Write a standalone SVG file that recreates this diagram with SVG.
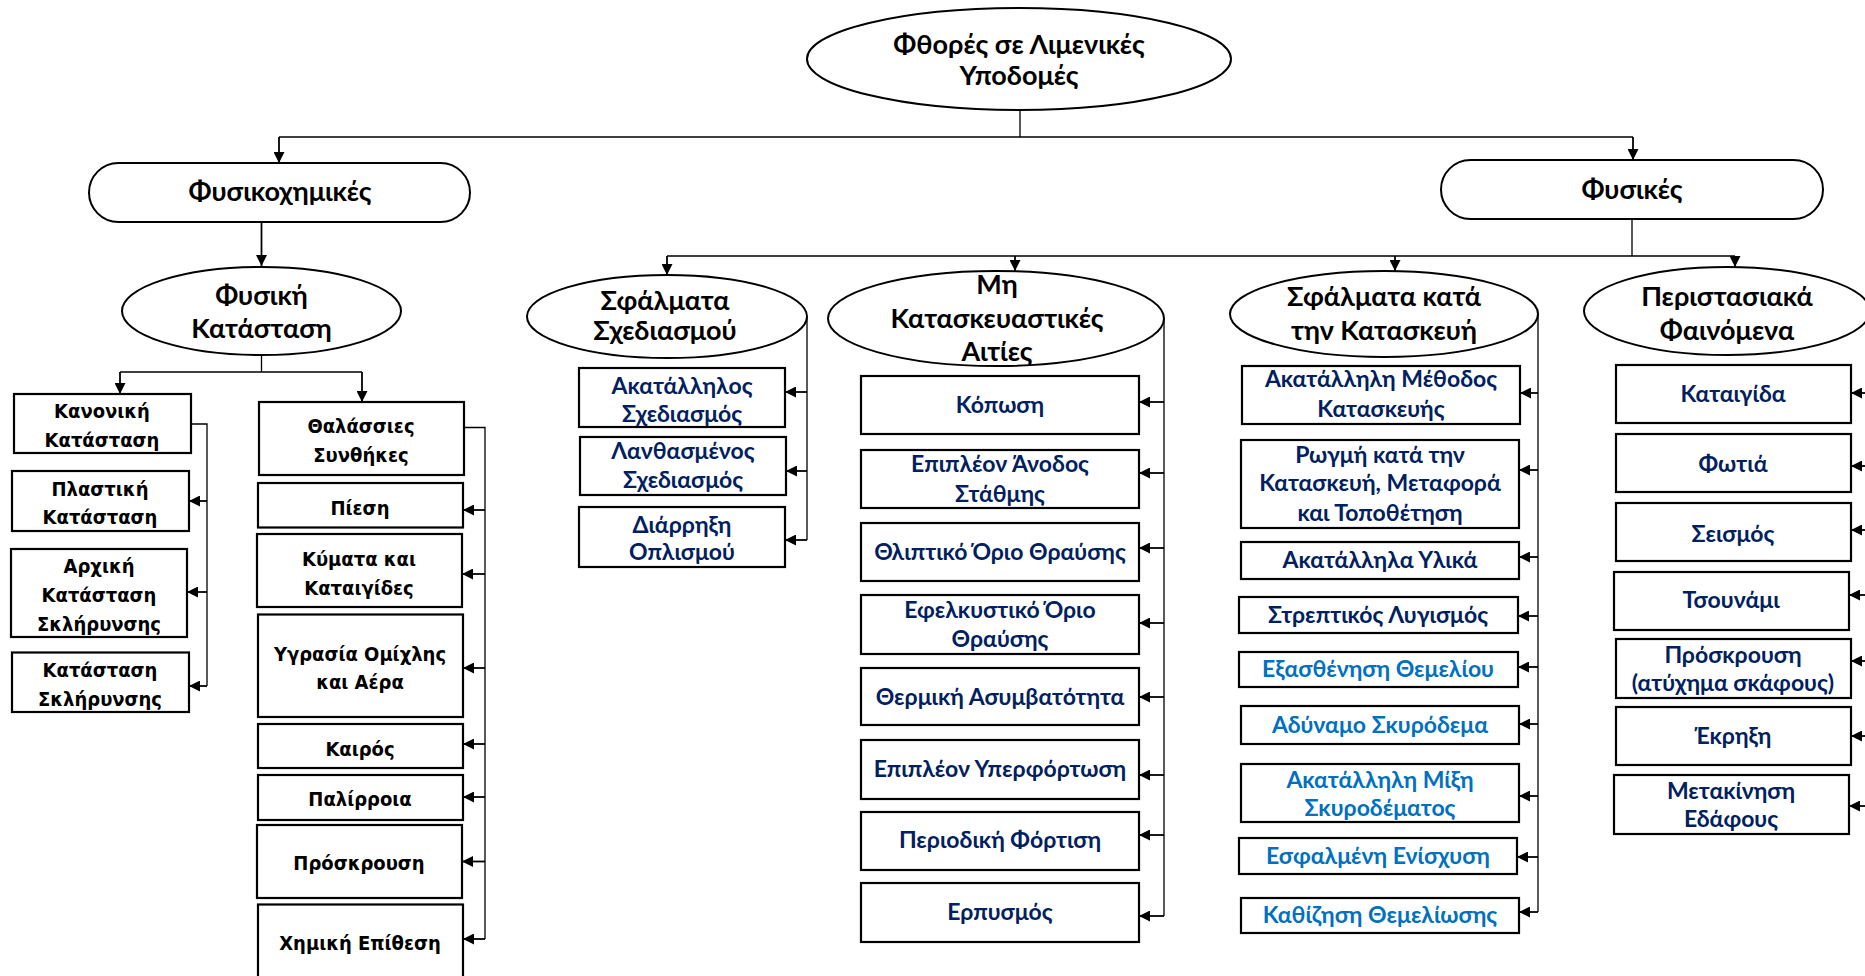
<svg xmlns="http://www.w3.org/2000/svg" width="1865" height="976" viewBox="0 0 1865 976">
<defs>
<marker id="ah" markerUnits="userSpaceOnUse" markerWidth="12" markerHeight="11" refX="11" refY="5.5" orient="auto">
<path d="M0,0 L11,5.5 L0,11 z" fill="#000"/>
</marker>
<style>
.shape{fill:#fff;stroke:#000;stroke-width:2}
.box{fill:#fff;stroke:#000;stroke-width:2.2}
.ln{fill:none;stroke:#000;stroke-width:1.3}
.ar{fill:none;stroke:#000;stroke-width:1.8;marker-end:url(#ah)}
.et{font-family:Lato,"Liberation Sans",sans-serif;font-weight:bold;font-size:27px;fill:#000;text-anchor:middle}
.lt{font-family:"DejaVu Sans Condensed","DejaVu Sans",Verdana,sans-serif;font-stretch:condensed;font-weight:bold;font-size:20px;fill:#000;text-anchor:middle}
.nt{font-family:Lato,"Liberation Sans",sans-serif;font-weight:bold;font-size:23px;fill:#002060;text-anchor:middle}
.bt{font-family:Lato,"Liberation Sans",sans-serif;font-weight:bold;font-size:23px;fill:#0070C0;text-anchor:middle}
</style>
</defs>
<rect width="1865" height="976" fill="#fff"/>

<g id="connectors">
<path class="ln" d="M1020,110 V137 M279,137 H1633"/>
<path class="ar" d="M279,137 V163"/>
<path class="ar" d="M1633,137 V160"/>
<path class="ar" d="M261.5,222 V266"/>
<path class="ln" d="M261.5,355 V372 M120,372 H362"/>
<path class="ar" d="M120,372 V394"/>
<path class="ar" d="M362,372 V402"/>
<path class="ln" d="M1632,219 V256 M667,256 H1735"/>
<path class="ar" d="M667,256 V275"/>
<path class="ar" d="M1015,256 V271"/>
<path class="ar" d="M1395,256 V271"/>
<path class="ar" d="M1735,256 V267"/>
<path class="ln" d="M191,424 H207 V686"/>
<path class="ar" d="M207,501 H189"/>
<path class="ar" d="M207,592 H187"/>
<path class="ar" d="M207,686 H189"/>
<path class="ln" d="M464,427.5 H485 V939"/>
<path class="ar" d="M485,510 H463"/>
<path class="ar" d="M485,574 H462"/>
<path class="ar" d="M485,668 H463"/>
<path class="ar" d="M485,744 H463"/>
<path class="ar" d="M485,797 H463"/>
<path class="ar" d="M485,861.5 H462"/>
<path class="ar" d="M485,939 H463"/>
<path class="ln" d="M807,317 V540"/>
<path class="ar" d="M807,392 H785"/>
<path class="ar" d="M807,471 H786"/>
<path class="ar" d="M807,540 H785"/>
<path class="ln" d="M1164,318 V916"/>
<path class="ar" d="M1164,402 H1139"/>
<path class="ar" d="M1164,473 H1139"/>
<path class="ar" d="M1164,548 H1139"/>
<path class="ar" d="M1164,623 H1139"/>
<path class="ar" d="M1164,697 H1139"/>
<path class="ar" d="M1164,775 H1139"/>
<path class="ar" d="M1164,835 H1139"/>
<path class="ar" d="M1164,916 H1139"/>
<path class="ln" d="M1538,314 V912"/>
<path class="ar" d="M1538,393 H1520"/>
<path class="ar" d="M1538,470 H1519"/>
<path class="ar" d="M1538,557 H1519"/>
<path class="ar" d="M1538,616 H1518"/>
<path class="ar" d="M1538,667 H1518"/>
<path class="ar" d="M1538,724 H1519"/>
<path class="ar" d="M1538,796 H1519"/>
<path class="ar" d="M1538,857 H1517"/>
<path class="ar" d="M1538,912 H1519"/>
<path class="ar" d="M1868,393 H1851"/>
<path class="ar" d="M1868,466 H1851"/>
<path class="ar" d="M1868,530 H1851"/>
<path class="ar" d="M1868,595 H1849"/>
<path class="ar" d="M1868,661 H1851"/>
<path class="ar" d="M1868,736 H1851"/>
<path class="ar" d="M1868,806 H1849"/>
</g>

<g id="root"><ellipse class="shape" cx="1019" cy="59" rx="212" ry="51"/><text class="et" x="1019" y="54">Φθορές σε Λιμενικές</text><text class="et" x="1019" y="85">Υποδομές</text></g>
<g id="fysikoximikes"><rect class="shape" x="89" y="163" width="381" height="59" rx="29.5"/><text class="et" x="280" y="201">Φυσικοχημικές</text></g>
<g id="fysikes"><rect class="shape" x="1441" y="160" width="382" height="59" rx="29.5"/><text class="et" x="1632" y="199">Φυσικές</text></g>

<g id="fysiki-katastasi"><ellipse class="shape" cx="261.5" cy="311" rx="139.5" ry="44"/><text class="et" x="261.5" y="305">Φυσική</text><text class="et" x="261.5" y="338">Κατάσταση</text></g>
<g id="kanoniki"><rect class="box" x="14" y="394" width="177" height="59"/><text class="lt" x="102" y="418">Κανονική</text><text class="lt" x="102" y="447">Κατάσταση</text></g>
<g id="plastiki"><rect class="box" x="12" y="471" width="177" height="60"/><text class="lt" x="100" y="496">Πλαστική</text><text class="lt" x="100" y="524">Κατάσταση</text></g>
<g id="arxiki"><rect class="box" x="11" y="549" width="176" height="88"/><text class="lt" x="99" y="573">Αρχική</text><text class="lt" x="99" y="602">Κατάσταση</text><text class="lt" x="99" y="631">Σκλήρυνσης</text></g>
<g id="sklirynsi"><rect class="box" x="12" y="652.5" width="177" height="59.5"/><text class="lt" x="100" y="677">Κατάσταση</text><text class="lt" x="100" y="706">Σκλήρυνσης</text></g>

<g id="thalassies"><rect class="box" x="259" y="402" width="205" height="73"/><text class="lt" x="361" y="433">Θαλάσσιες</text><text class="lt" x="361" y="462">Συνθήκες</text></g>
<g id="piesi"><rect class="box" x="258" y="483" width="205" height="44.5"/><text class="lt" x="360" y="515">Πίεση</text></g>
<g id="kymata"><rect class="box" x="257" y="534" width="205" height="73"/><text class="lt" x="359" y="565.5">Κύματα και</text><text class="lt" x="359" y="595">Καταιγίδες</text></g>
<g id="ygrasia"><rect class="box" x="258" y="614.5" width="205" height="102.5"/><text class="lt" x="360" y="660.5">Υγρασία Ομίχλης</text><text class="lt" x="360" y="689">και Αέρα</text></g>
<g id="kairos"><rect class="box" x="258" y="724" width="205" height="44"/><text class="lt" x="360" y="756">Καιρός</text></g>
<g id="palirroia"><rect class="box" x="258" y="775" width="205" height="45"/><text class="lt" x="360" y="806">Παλίρροια</text></g>
<g id="proskrousi1"><rect class="box" x="257" y="825" width="205" height="73"/><text class="lt" x="359" y="870">Πρόσκρουση</text></g>
<g id="ximiki"><rect class="box" x="258" y="904.5" width="205" height="100"/><text class="lt" x="360" y="950">Χημική Επίθεση</text></g>

<g id="sfalmata-sxediasmou"><ellipse class="shape" cx="667" cy="316.5" rx="140" ry="41.5"/><text class="et" x="665" y="310">Σφάλματα</text><text class="et" x="665" y="340">Σχεδιασμού</text></g>
<g id="akatallilos"><rect class="box" x="579" y="368" width="206" height="59"/><text class="nt" x="682" y="394">Ακατάλληλος</text><text class="nt" x="682" y="422">Σχεδιασμός</text></g>
<g id="lanthasmenos"><rect class="box" x="580" y="437" width="206" height="58"/><text class="nt" x="683" y="459">Λανθασμένος</text><text class="nt" x="683" y="488">Σχεδιασμός</text></g>
<g id="diarrixi"><rect class="box" x="579" y="507" width="206" height="60"/><text class="nt" x="682" y="533">Διάρρηξη</text><text class="nt" x="682" y="560">Οπλισμού</text></g>

<g id="mi-kataskevastikes"><ellipse class="shape" cx="996" cy="318.5" rx="168" ry="47.5"/><text class="et" x="997" y="294">Μη</text><text class="et" x="997" y="328">Κατασκευαστικές</text><text class="et" x="997" y="361">Αιτίες</text></g>
<g id="koposi"><rect class="box" x="861" y="376" width="278" height="58"/><text class="nt" x="1000" y="413">Κόπωση</text></g>
<g id="anodos"><rect class="box" x="861" y="450" width="278" height="58"/><text class="nt" x="1000" y="472">Επιπλέον Άνοδος</text><text class="nt" x="1000" y="502">Στάθμης</text></g>
<g id="thliptiko"><rect class="box" x="861" y="523" width="278" height="58"/><text class="nt" x="1000" y="560">Θλιπτικό Όριο Θραύσης</text></g>
<g id="efelkystiko"><rect class="box" x="861" y="595" width="278" height="59"/><text class="nt" x="1000" y="618">Εφελκυστικό Όριο</text><text class="nt" x="1000" y="647">Θραύσης</text></g>
<g id="thermiki"><rect class="box" x="861" y="668" width="278" height="57"/><text class="nt" x="1000" y="705">Θερμική Ασυμβατότητα</text></g>
<g id="yperfortosi"><rect class="box" x="861" y="740" width="278" height="59"/><text class="nt" x="1000" y="777">Επιπλέον Υπερφόρτωση</text></g>
<g id="periodiki"><rect class="box" x="861" y="812" width="278" height="58"/><text class="nt" x="1000" y="848">Περιοδική Φόρτιση</text></g>
<g id="erpysmos"><rect class="box" x="861" y="883" width="278" height="59"/><text class="nt" x="1000" y="920">Ερπυσμός</text></g>

<g id="sfalmata-kataskevi"><ellipse class="shape" cx="1384" cy="314" rx="154" ry="43"/><text class="et" x="1384" y="306">Σφάλματα κατά</text><text class="et" x="1384" y="340">την Κατασκευή</text></g>
<g id="methodos"><rect class="box" x="1242" y="366" width="278" height="58"/><text class="nt" x="1381" y="387">Ακατάλληλη Μέθοδος</text><text class="nt" x="1381" y="417">Κατασκευής</text></g>
<g id="rogmi"><rect class="box" x="1241" y="440" width="278" height="88"/><text class="nt" x="1380" y="463">Ρωγμή κατά την</text><text class="nt" x="1380" y="491">Κατασκευή, Μεταφορά</text><text class="nt" x="1380" y="521">και Τοποθέτηση</text></g>
<g id="ylika"><rect class="box" x="1241" y="542" width="278" height="37"/><text class="nt" x="1380" y="568">Ακατάλληλα Υλικά</text></g>
<g id="streptikos"><rect class="box" x="1239" y="597" width="279" height="36"/><text class="nt" x="1378" y="623">Στρεπτικός Λυγισμός</text></g>
<g id="exasthenisi"><rect class="box" x="1239" y="652" width="279" height="35"/><text class="bt" x="1378" y="677">Εξασθένηση Θεμελίου</text></g>
<g id="adynamo"><rect class="box" x="1241" y="706" width="278" height="38"/><text class="bt" x="1380" y="733">Αδύναμο Σκυρόδεμα</text></g>
<g id="mixi"><rect class="box" x="1241" y="764" width="278" height="58"/><text class="bt" x="1380" y="788">Ακατάλληλη Μίξη</text><text class="bt" x="1380" y="816">Σκυροδέματος</text></g>
<g id="enisxysi"><rect class="box" x="1239" y="838" width="278" height="36"/><text class="bt" x="1378" y="864">Εσφαλμένη Ενίσχυση</text></g>
<g id="kathizisi"><rect class="box" x="1241" y="898" width="278" height="35"/><text class="bt" x="1380" y="923">Καθίζηση Θεμελίωσης</text></g>

<g id="peristasiaka"><ellipse class="shape" cx="1727" cy="311" rx="143" ry="44"/><text class="et" x="1727" y="306">Περιστασιακά</text><text class="et" x="1727" y="340">Φαινόμενα</text></g>
<g id="kataigida"><rect class="box" x="1616" y="365" width="235" height="58"/><text class="nt" x="1733" y="402">Καταιγίδα</text></g>
<g id="fotia"><rect class="box" x="1616" y="434" width="235" height="58"/><text class="nt" x="1733" y="472">Φωτιά</text></g>
<g id="seismos"><rect class="box" x="1616" y="503" width="235" height="58"/><text class="nt" x="1733" y="542">Σεισμός</text></g>
<g id="tsounami"><rect class="box" x="1614" y="572" width="235" height="58"/><text class="nt" x="1731" y="608">Τσουνάμι</text></g>
<g id="proskrousi2"><rect class="box" x="1616" y="639" width="235" height="59"/><text class="nt" x="1733" y="663">Πρόσκρουση</text><text class="nt" x="1733" y="691">(ατύχημα σκάφους)</text></g>
<g id="ekrixi"><rect class="box" x="1616" y="707" width="235" height="58"/><text class="nt" x="1733" y="744">Έκρηξη</text></g>
<g id="metakinisi"><rect class="box" x="1614" y="775" width="235" height="59"/><text class="nt" x="1731" y="799">Μετακίνηση</text><text class="nt" x="1731" y="827">Εδάφους</text></g>
</svg>
